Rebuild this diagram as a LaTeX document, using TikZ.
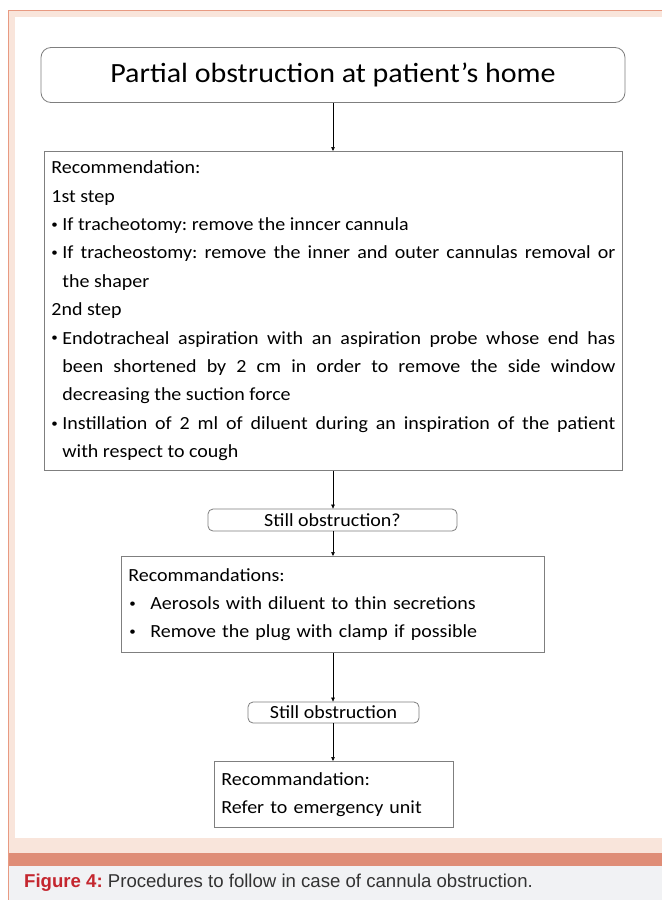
\documentclass[tikz,border=0pt]{standalone}
\usepackage{fontspec}
\setmainfont{Carlito}[FakeStretch=1.08]
\newfontfamily\capfont{Liberation Sans}
\usetikzlibrary{arrows.meta}
\definecolor{framepeach}{HTML}{F9E5DB}
\definecolor{frameline}{HTML}{E89A82}
\definecolor{bandsalmon}{HTML}{DF8D77}
\definecolor{capgray}{HTML}{F1F2F4}
\definecolor{capred}{HTML}{C4262E}
\definecolor{captext}{HTML}{333333}
\definecolor{boxgray}{HTML}{7F7F7F}
\newcommand{\smallbul}{\raisebox{0.12em}{\scalebox{0.65}{\textbullet}}}
\newcommand{\itembul}{\hangindent=11pt\hangafter=1\noindent\makebox[11pt][l]{\smallbul}}
\newcommand{\wideitem}{\hangindent=22pt\hangafter=1\noindent\makebox[22pt][l]{\hspace{1pt}\smallbul}}

\begin{document}
\begin{tikzpicture}[x=1pt, y=-1pt,
  stepbox/.style={draw=boxgray, line width=0.8pt, inner xsep=7pt, inner ysep=0pt, anchor=north west, align=justify},
  roundbox/.style={draw=boxgray, line width=0.8pt, inner sep=0pt, rounded corners=5pt},
  link/.style={-{Triangle[length=4pt,width=3.5pt]}, line width=0.6pt}]
\useasboundingbox (0,0) rectangle (662,900);
\frenchspacing

% frame and caption strip
\fill[framepeach] (8,10) rectangle (662,853);
\fill[white] (15,17) rectangle (662,838);
\fill[bandsalmon] (8,853) rectangle (662,866);
\fill[capgray] (8,866) rectangle (662,900);
\draw[frameline, line width=1pt] (662,10) -- (8,10) -- (8,900);

% start
\node[roundbox, rounded corners=10pt, minimum width=584pt, minimum height=55pt,
  font=\fontsize{27.8}{30}\selectfont] (home) at (333,75) {Partial obstruction at patient’s home};

% first recommendation
\node[stepbox, text width=564pt, minimum height=319pt, font=\fontsize{18.5}{28.4}\selectfont] (rec1) at (44,151) {%
Recommendation:\par
1st step\par
\itembul If tracheotomy: remove the inncer cannula\par
\itembul If tracheostomy: remove the inner and outer cannulas removal or\linebreak the shaper\par
2nd step\par
\itembul Endotracheal aspiration with an aspiration probe whose end has\linebreak been shortened by 2 cm in order to remove the side window\linebreak decreasing the suction force\par
\itembul Instillation of 2 ml of diluent during an inspiration of the patient\linebreak with respect to cough\par};

% still obstruction?
\node[roundbox, minimum width=249pt, minimum height=22pt, font=\fontsize{18.5}{22}\selectfont] (still1) at (332.5,520) {Still obstruction?};

% second recommendation
\node[stepbox, align=left, text width=409pt, minimum height=96pt, font=\fontsize{18.5}{28}\selectfont] (rec2) at (121,556) {%
Recommandations:\par
\wideitem Aerosols with diluent to thin secretions\par
\wideitem Remove the plug with clamp if possible\par};

% still obstruction
\node[roundbox, minimum width=171pt, minimum height=21pt, font=\fontsize{18.5}{22}\selectfont] (still2) at (333.5,712.5) {Still obstruction};

% emergency
\node[stepbox, align=left, text width=225pt, minimum height=66pt, font=\fontsize{18.5}{28}\selectfont] (rec3) at (214,761) {%
Recommandation:\par
Refer to emergency unit};

% links
\draw[link] (home.south) -- (home.south |- rec1.north);
\draw[link] (home.south |- rec1.south) -- (home.south |- still1.north);
\draw[link] (home.south |- still1.south) -- (home.south |- rec2.north);
\draw[link] (home.south |- rec2.south) -- (home.south |- still2.north);
\draw[link] (home.south |- still2.south) -- (home.south |- rec3.north);

% caption
\node[anchor=west, inner sep=0pt, font=\capfont\fontsize{18.6}{20}\selectfont, text=captext] (caption) at (24,883)
  {\textcolor{capred}{\textbf{Figure 4:}} Procedures to follow in case of cannula obstruction.};
\end{tikzpicture}
\end{document}
